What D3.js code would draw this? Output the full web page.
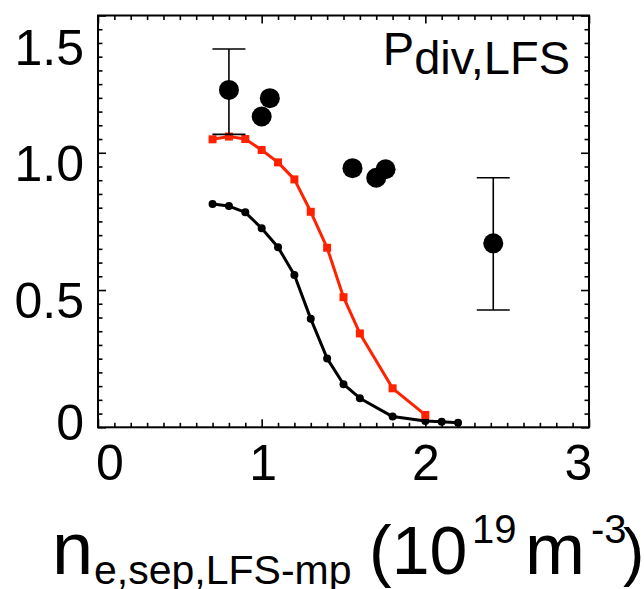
<!DOCTYPE html>
<html>
<head>
<meta charset="utf-8">
<script src="https://cdn.jsdelivr.net/npm/d3@7"></script>
<style>
  html, body { margin: 0; padding: 0; background: #fff; }
  svg { display: block; font-family: "Liberation Sans", Arial, Helvetica, sans-serif; }
</style>
</head>
<body>
<svg id="chart" width="644" height="589"></svg>
<script>
// ---- data ----
const xTicks = [0, 1, 2, 3];
const xTickLabels = ["0", "1", "2", "3"];
const yTicks = [0, 0.5, 1.0, 1.5];
const yTickLabels = ["0", "0.5", "1.0", "1.5"];

const redX = [0.70, 0.80, 0.90, 1.00, 1.10, 1.20, 1.30, 1.40, 1.50, 1.60, 1.80, 2.00];
const redY = [1.049, 1.059, 1.050, 1.010, 0.965, 0.903, 0.785, 0.654, 0.474, 0.342, 0.142, 0.045];

const blackX = [0.70, 0.80, 0.90, 1.00, 1.10, 1.20, 1.30, 1.40, 1.50, 1.60, 1.80, 2.00, 2.10, 2.20];
const blackY = [0.813, 0.806, 0.783, 0.725, 0.656, 0.555, 0.395, 0.251, 0.157, 0.106, 0.039, 0.023, 0.020, 0.017];

const expX = [0.80, 1.00, 1.05, 1.555, 1.70, 1.757, 2.415];
const expY = [1.229, 1.132, 1.199, 0.944, 0.909, 0.940, 0.670];

const errX = [0.80, 2.415];
const errLo = [1.067, 0.427];
const errHi = [1.378, 0.909];

// ---- layout ----
const svg = d3.select("#chart");
const L = 98, R = 589, T = 15.5, B = 427.3;
const x = d3.scaleLinear().domain([0, 3]).range([L, R]);
const y = d3.scaleLinear().domain([0, 1.5]).range([B, T]);

const xMinor = d3.range(0, 3.0001, 0.1).map(v => +v.toFixed(2)).filter(v => !xTicks.includes(v));
const yMinor = d3.range(0, 1.5001, 0.05).map(v => +v.toFixed(2)).filter(v => !yTicks.includes(v));

function styleAxis(g) {
  g.select(".domain").remove();
  g.selectAll(".tick line").attr("stroke", "#000").attr("stroke-width", 1.6);
}

// bottom axis (major with labels)
const gxB = svg.append("g").attr("transform", `translate(0,${B})`)
  .call(d3.axisBottom(x).tickValues(xTicks).tickSize(-8).tickPadding(17)
    .tickFormat((d, i) => xTickLabels[i]));
styleAxis(gxB);
const xLabelShift = {0: 11.5, 1: 1, 2: 0, 3: -11};
gxB.selectAll(".tick text")
  .attr("font-size", 50).attr("font-family", "Liberation Sans, Arial, sans-serif")
  .attr("fill", "#000")
  .attr("dx", d => xLabelShift[d]);
svg.append("g").attr("transform", `translate(0,${B})`)
  .call(d3.axisBottom(x).tickValues(xMinor).tickSize(-4.5).tickFormat(""))
  .call(styleAxis);

// top axis
svg.append("g").attr("transform", `translate(0,${T})`)
  .call(d3.axisTop(x).tickValues(xTicks).tickSize(-8).tickFormat(""))
  .call(styleAxis);
svg.append("g").attr("transform", `translate(0,${T})`)
  .call(d3.axisTop(x).tickValues(xMinor).tickSize(-4.5).tickFormat(""))
  .call(styleAxis);

// left axis
const gyL = svg.append("g").attr("transform", `translate(${L},0)`)
  .call(d3.axisLeft(y).tickValues(yTicks).tickSize(-8).tickPadding(14)
    .tickFormat((d, i) => yTickLabels[i]));
styleAxis(gyL);
const yLabelShift = {0: -4, 0.5: 11.5, 1: 12, 1.5: 33};
gyL.selectAll(".tick text")
  .attr("font-size", 50).attr("font-family", "Liberation Sans, Arial, sans-serif")
  .attr("fill", "#000")
  .attr("y", d => yLabelShift[d]);
svg.append("g").attr("transform", `translate(${L},0)`)
  .call(d3.axisLeft(y).tickValues(yMinor).tickSize(-4.5).tickFormat(""))
  .call(styleAxis);

// right axis
svg.append("g").attr("transform", `translate(${R},0)`)
  .call(d3.axisRight(y).tickValues(yTicks).tickSize(-8).tickFormat(""))
  .call(styleAxis);
svg.append("g").attr("transform", `translate(${R},0)`)
  .call(d3.axisRight(y).tickValues(yMinor).tickSize(-4.5).tickFormat(""))
  .call(styleAxis);

// frame
svg.append("rect").attr("x", L).attr("y", T).attr("width", R - L).attr("height", B - T)
  .attr("fill", "none").attr("stroke", "#000").attr("stroke-width", 2);

// ---- series ----
const line = d3.line().x(d => x(d[0])).y(d => y(d[1]));

const blackPts = blackX.map((v, i) => [v, blackY[i]]);
svg.append("path").datum(blackPts).attr("d", line)
  .attr("fill", "none").attr("stroke", "#000").attr("stroke-width", 3).attr("stroke-linejoin", "round");
svg.selectAll("circle.bk").data(blackPts).enter().append("circle").attr("class", "bk")
  .attr("cx", d => x(d[0])).attr("cy", d => y(d[1])).attr("r", 4).attr("fill", "#000");

const redPts = redX.map((v, i) => [v, redY[i]]);
svg.append("path").datum(redPts).attr("d", line)
  .attr("fill", "none").attr("stroke", "#ff2200").attr("stroke-width", 3).attr("stroke-linejoin", "round");
const sq = 8;
svg.selectAll("rect.rd").data(redPts).enter().append("rect").attr("class", "rd")
  .attr("x", d => x(d[0]) - sq / 2).attr("y", d => y(d[1]) - sq / 2)
  .attr("width", sq).attr("height", sq).attr("fill", "#ff2200");

// error bars
const capW = 16.5;
errX.forEach((xv, i) => {
  const g = svg.append("g").attr("stroke", "#000").attr("stroke-width", 1.6);
  g.append("line").attr("x1", x(xv)).attr("x2", x(xv)).attr("y1", y(errLo[i])).attr("y2", y(errHi[i]));
  g.append("line").attr("x1", x(xv) - capW).attr("x2", x(xv) + capW).attr("y1", y(errHi[i])).attr("y2", y(errHi[i]));
  g.append("line").attr("x1", x(xv) - capW).attr("x2", x(xv) + capW).attr("y1", y(errLo[i])).attr("y2", y(errLo[i]));
});

// experimental points
svg.selectAll("circle.ex").data(expX.map((v, i) => [v, expY[i]])).enter().append("circle").attr("class", "ex")
  .attr("cx", d => x(d[0])).attr("cy", d => y(d[1])).attr("r", 10).attr("fill", "#000");

// ---- labels ----
const pl = svg.append("text").attr("x", 570).attr("y", 65).attr("text-anchor", "end")
  .attr("font-size", 47).attr("fill", "#000");
pl.append("tspan").text("P");
pl.append("tspan").attr("dy", 9).text("div,LFS");

const base = 574;
const xt = svg.append("text").attr("fill", "#000");
xt.append("tspan").attr("x", 52).attr("y", base).attr("font-size", 74).text("n");
xt.append("tspan").attr("x", 94).attr("y", base + 10).attr("font-size", 41).text("e,sep,LFS-mp");
xt.append("tspan").attr("x", 369).attr("y", base).attr("font-size", 68).text("(10");
xt.append("tspan").attr("x", 472).attr("y", base - 31).attr("font-size", 40).text("19");
xt.append("tspan").attr("x", 525).attr("y", base).attr("font-size", 72).text("m");
xt.append("tspan").attr("x", 591).attr("y", base - 31).attr("font-size", 40).text("-3");
xt.append("tspan").attr("x", 623).attr("y", base).attr("font-size", 64).text(")");
</script>
</body>
</html>
